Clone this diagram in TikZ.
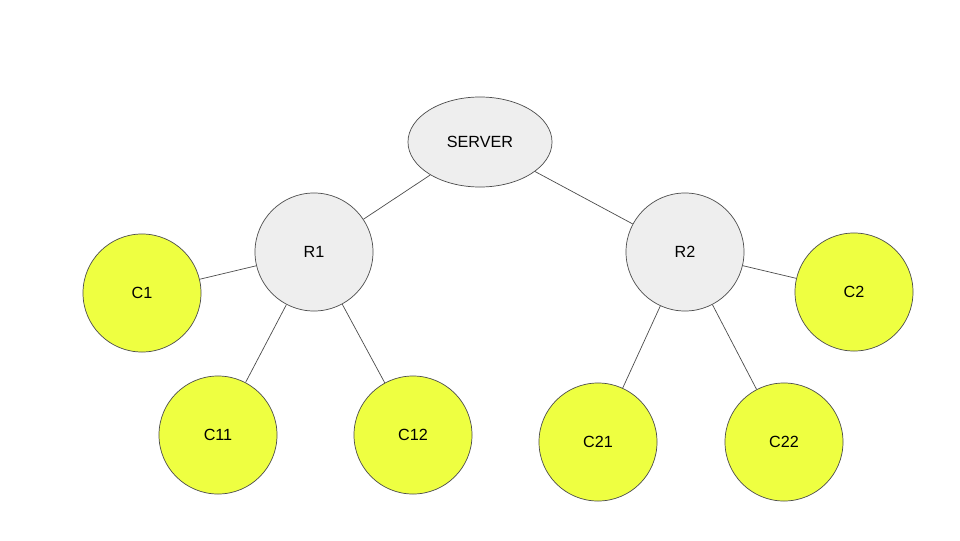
\documentclass[tikz,border=0pt]{standalone}
\usepackage{fontspec}
\setmainfont{Liberation Sans}
\usetikzlibrary{shapes.geometric}
\definecolor{hostgray}{HTML}{EEEEEE}
\definecolor{clientyellow}{HTML}{EEFF41}
\tikzset{
    x=0.025cm, y=-0.025cm,
    every node/.style={font=\fontsize{11.5}{14}\selectfont, draw=black!70, line width=0.5pt},
    server/.style={ellipse, fill=hostgray, minimum width=3.6cm, minimum height=2.25cm, inner sep=0pt},
    router/.style={circle, fill=hostgray, minimum size=2.95cm, inner sep=0pt},
    client/.style={circle, fill=clientyellow, minimum size=2.95cm, inner sep=0pt},
    link/.style={draw=black!70, line width=0.5pt},
}
\begin{document}
\begin{tikzpicture}
    \useasboundingbox (0,0) rectangle (960,540);
    \node[server] (srv) at (480,142) {SERVER};
    \node[router] (r1) at (314,252) {R1};
    \node[router] (r2) at (685,252) {R2};
    \node[client] (c1) at (142,293) {C1};
    \node[client] (c11) at (218,435) {C11};
    \node[client] (c12) at (413,435) {C12};
    \node[client] (c21) at (598,442) {C21};
    \node[client] (c22) at (784,442) {C22};
    \node[client] (c2) at (854,292) {C2};
    \draw[link] (srv) -- (r1);
    \draw[link] (srv) -- (r2);
    \draw[link] (r1) -- (c1);
    \draw[link] (r1) -- (c11);
    \draw[link] (r1) -- (c12);
    \draw[link] (r2) -- (c21);
    \draw[link] (r2) -- (c22);
    \draw[link] (r2) -- (c2);
\end{tikzpicture}
\end{document}
